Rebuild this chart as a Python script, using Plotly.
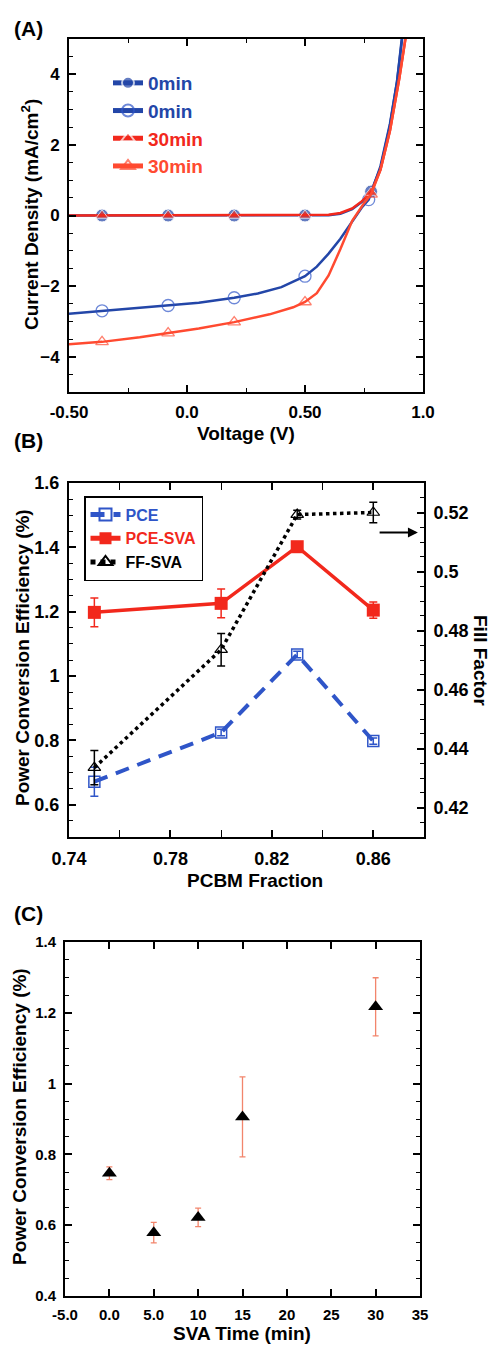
import plotly.graph_objects as go

W, H = 495, 1345

# ---------------- Panel A data (J-V curves) ----------------
V_DARK_0 = [-0.5, -0.36, -0.2, -0.08, 0.05, 0.2, 0.35, 0.5, 0.55, 0.6, 0.65, 0.7, 0.74, 0.78, 0.82, 0.86, 0.89, 0.91]
J_DARK_0 = [0, 0, 0, 0, 0, 0, 0, 0, 0, 0.01, 0.05, 0.18, 0.38, 0.68, 1.35, 2.55, 3.8, 5.0]
V_LIGHT_0 = [-0.5, -0.36, -0.2, -0.08, 0.05, 0.2, 0.3, 0.4, 0.5, 0.55, 0.6, 0.65, 0.7, 0.74, 0.77, 0.82, 0.86, 0.89, 0.915]
J_LIGHT_0 = [-2.78, -2.7, -2.62, -2.55, -2.47, -2.33, -2.21, -2.03, -1.72, -1.45, -1.08, -0.66, -0.18, 0.22, 0.45, 1.4, 2.6, 3.8, 5.2]
V_DARK_30 = [-0.5, -0.36, -0.2, -0.08, 0.05, 0.2, 0.35, 0.5, 0.55, 0.6, 0.65, 0.7, 0.74, 0.78, 0.82, 0.86, 0.9, 0.93]
J_DARK_30 = [0, 0, 0, 0, 0, 0, 0, 0, 0, 0.02, 0.07, 0.2, 0.4, 0.65, 1.3, 2.4, 3.9, 5.2]
V_LIGHT_30 = [-0.5, -0.36, -0.2, -0.08, 0.05, 0.2, 0.35, 0.45, 0.5, 0.55, 0.6, 0.65, 0.7, 0.75, 0.78, 0.82, 0.86, 0.9, 0.93]
J_LIGHT_30 = [-3.65, -3.58, -3.45, -3.33, -3.2, -3.02, -2.8, -2.6, -2.45, -2.2, -1.7, -0.95, -0.15, 0.35, 0.6, 1.3, 2.4, 3.9, 5.2]
MARK_V = [-0.36, -0.08, 0.2, 0.5, 0.78]
MARK_V_OPEN0 = [-0.36, -0.08, 0.2, 0.5, 0.77]
A_NAMES = ["0min", "0min", "30min", "30min"]

# ---------------- Panel B data ----------------
PCBM_FRAC = [0.75, 0.80, 0.83, 0.86]
PCE = [0.672, 0.825, 1.067, 0.798]
PCE_ERR = [0.045, 0.01, 0.01, 0.01]
PCE_SVA = [1.198, 1.226, 1.402, 1.205]
PCE_SVA_ERR = [0.045, 0.045, 0.012, 0.025]
FF_SVA = [0.4335, 0.4735, 0.5193, 0.5200]
FF_SVA_ERR = [0.0058, 0.0055, 0.0015, 0.0035]

# ---------------- Panel C data ----------------
SVA_TIME = [0, 5, 10, 15, 30]
PCE_C = [0.747, 0.579, 0.622, 0.906, 1.217]
PCE_C_ERR = [0.018, 0.029, 0.026, 0.113, 0.082]

BLUE = "#2346a8"
BLUE_L = "#2f55c8"
RED = "#f2281c"
RED_L = "#ff4a30"
SALMON = "#f2856c"
FONT = "Liberation Sans"


def px_x(x):
    return x / W


def px_y(y):
    return 1 - y / H


def sizes(vs, marks, s):
    return [s if any(abs(v - m) < 1e-9 for m in marks) else 0 for v in vs]


def cspan(txt, col):
    return f'<span style="color:{col}">{txt}</span>'


fig = go.Figure()

# Panel A traces
fig.add_trace(go.Scatter(x=V_DARK_0, y=J_DARK_0, mode="lines+markers", name=cspan(A_NAMES[0], BLUE),
                         line=dict(color=BLUE, width=2.5),
                         marker=dict(symbol="circle", size=sizes(V_DARK_0, MARK_V, 13), color=BLUE),
                         xaxis="x", yaxis="y", legend="legend"))
fig.add_trace(go.Scatter(x=V_LIGHT_0, y=J_LIGHT_0, mode="lines+markers", name=cspan(A_NAMES[1], BLUE),
                         line=dict(color=BLUE, width=2.5),
                         marker=dict(symbol="circle-open", size=sizes(V_LIGHT_0, MARK_V_OPEN0, 12), color=BLUE_L,
                                     line=dict(width=1.3, color=BLUE_L)),
                         xaxis="x", yaxis="y", legend="legend"))
fig.add_trace(go.Scatter(x=V_DARK_30, y=J_DARK_30, mode="lines+markers", name=cspan(A_NAMES[2], RED),
                         line=dict(color=RED, width=2.5),
                         marker=dict(symbol="triangle-up", size=sizes(V_DARK_30, MARK_V, 11), color=RED),
                         xaxis="x", yaxis="y", legend="legend"))
fig.add_trace(go.Scatter(x=V_LIGHT_30, y=J_LIGHT_30, mode="lines+markers", name=cspan(A_NAMES[3], RED_L),
                         line=dict(color=RED_L, width=2.5),
                         marker=dict(symbol="triangle-up-open", size=sizes(V_LIGHT_30, MARK_V, 11), color=RED_L,
                                     line=dict(width=1.3, color=RED_L)),
                         xaxis="x", yaxis="y", legend="legend"))

# Panel B traces
fig.add_trace(go.Scatter(x=PCBM_FRAC, y=PCE, mode="lines+markers", name=cspan("PCE", BLUE_L),
                         line=dict(color=BLUE_L, width=4, dash="14px,9px"),
                         marker=dict(symbol="square-open", size=11, color=BLUE_L, line=dict(width=1.5, color=BLUE_L)),
                         error_y=dict(type="data", array=PCE_ERR, color=BLUE_L, thickness=1.5, width=4),
                         xaxis="x2", yaxis="y2", legend="legend2"))
fig.add_trace(go.Scatter(x=PCBM_FRAC, y=PCE_SVA, mode="lines+markers", name=cspan("PCE-SVA", RED),
                         line=dict(color=RED, width=3.5),
                         marker=dict(symbol="square", size=13, color=RED),
                         error_y=dict(type="data", array=PCE_SVA_ERR, color=RED, thickness=1.5, width=4),
                         xaxis="x2", yaxis="y2", legend="legend2"))
fig.add_trace(go.Scatter(x=PCBM_FRAC, y=FF_SVA, mode="lines+markers", name=cspan("FF-SVA", "black"),
                         line=dict(color="black", width=3.5, dash="dot"),
                         marker=dict(symbol="triangle-up-open", size=11, color="black", line=dict(width=1.2, color="black")),
                         error_y=dict(type="data", array=FF_SVA_ERR, color="black", thickness=1.5, width=4),
                         xaxis="x2", yaxis="y4", legend="legend2"))

# Panel C trace
fig.add_trace(go.Scatter(x=SVA_TIME, y=PCE_C, mode="markers", name="PCE",
                         marker=dict(symbol="triangle-up", size=13, color="black"),
                         error_y=dict(type="data", array=PCE_C_ERR, color=SALMON, thickness=1.3, width=3),
                         xaxis="x3", yaxis="y3", showlegend=False))


def ax_style(fsize, **kw):
    d = dict(showline=True, linecolor="black", linewidth=2, ticks="inside", ticklen=7, tickwidth=1.5,
             tickcolor="black", showgrid=False, zeroline=False, mirror="ticks",
             tickfont=dict(family=FONT, size=fsize, color="black", weight="bold"),
             ticklabelstandoff=4, automargin=False)
    d.update(kw)
    return d


def minor(dt, t0=0):
    return dict(ticks="inside", ticklen=4, tickwidth=1.3, tickcolor="black", dtick=dt, tick0=t0, showgrid=False)


layout = dict(
    width=W, height=H, margin=dict(l=0, r=0, t=0, b=0),
    paper_bgcolor="white", plot_bgcolor="white", template="none",
    font=dict(family=FONT, color="black"),
    # Panel A
    xaxis=ax_style(17, domain=[px_x(69), px_x(423)], range=[-0.5, 1.0], tickvals=[-0.5, 0, 0.5, 1.0],
                   ticktext=["-0.50", "0.0", "0.50", "1.0"], minor=minor(0.25), anchor="y"),
    yaxis=ax_style(17, domain=[px_y(392), px_y(39)], range=[-5, 5], tickvals=[-4, -2, 0, 2, 4],
                   minor=minor(0.5), anchor="x"),
    # Panel B
    xaxis2=ax_style(18, domain=[px_x(69), px_x(424)], range=[0.74, 0.88], tickvals=[0.74, 0.78, 0.82, 0.86],
                    ticktext=["0.74", "0.78", "0.82", "0.86"], minor=dict(minor(0.02, 0.74), ticklen=7), anchor="y2"),
    yaxis2=ax_style(18, domain=[px_y(837), px_y(483)], range=[0.5, 1.6], tickvals=[0.6, 0.8, 1.0, 1.2, 1.4, 1.6],
                    ticktext=["0.6", "0.8", "1", "1.2", "1.4", "1.6"], minor=minor(0.05), anchor="x2", mirror=False),
    yaxis4=ax_style(18, overlaying="y2", side="right", range=[0.41, 0.53],
                    tickvals=[0.42, 0.44, 0.46, 0.48, 0.50, 0.52],
                    ticktext=["0.42", "0.44", "0.46", "0.48", "0.5", "0.52"], minor=minor(0.005), anchor="x2",
                    mirror=False),
    # Panel C
    xaxis3=ax_style(15, domain=[px_x(65), px_x(420)], range=[-5, 35], tickvals=[-5, 0, 5, 10, 15, 20, 25, 30, 35],
                    ticktext=["-5.0", "0.0", "5.0", "10", "15", "20", "25", "30", "35"], anchor="y3"),
    yaxis3=ax_style(15, domain=[px_y(1296), px_y(942)], range=[0.4, 1.4], tickvals=[0.4, 0.6, 0.8, 1.0, 1.2, 1.4],
                    ticktext=["0.4", "0.6", "0.8", "1", "1.2", "1.4"], minor=minor(0.05), anchor="x3"),
    legend=dict(x=px_x(108), y=px_y(64), xanchor="left", yanchor="top", bgcolor="rgba(0,0,0,0)",
                borderwidth=0, font=dict(family=FONT, size=19, weight="bold"), itemsizing="constant",
                tracegroupgap=0, itemwidth=30),
    legend2=dict(x=px_x(84), y=px_y(496), xanchor="left", yanchor="top", bgcolor="white",
                 bordercolor="black", borderwidth=1.5, font=dict(family=FONT, size=16, weight="bold"),
                 itemsizing="constant", tracegroupgap=0, itemwidth=30),
    showlegend=True,
)
fig.update_layout(**layout)

TITLE_FONT = dict(family=FONT, size=19, color="black", weight="bold")
ann = [
    dict(text="(A)", x=px_x(12), y=px_y(28), xanchor="left", font=dict(family=FONT, size=21, weight="bold")),
    dict(text="(B)", x=px_x(12), y=px_y(441), xanchor="left", font=dict(family=FONT, size=21, weight="bold")),
    dict(text="(C)", x=px_x(12), y=px_y(913), xanchor="left", font=dict(family=FONT, size=21, weight="bold")),
    dict(text="Current Density (mA/cm<sup>2</sup>)", x=px_x(30), y=px_y(215), textangle=-90, font=TITLE_FONT),
    dict(text="Voltage (V)", x=px_x(246), y=px_y(433), font=TITLE_FONT),
    dict(text="Power Conversion Efficiency (%)", x=px_x(22), y=px_y(658), textangle=-90, font=TITLE_FONT),
    dict(text="Fill Factor", x=px_x(481), y=px_y(660), textangle=90, font=TITLE_FONT),
    dict(text="PCBM Fraction", x=px_x(255), y=px_y(880), font=TITLE_FONT),
    dict(text="Power Conversion Efficiency (%)", x=px_x(19), y=px_y(1117), textangle=-90, font=TITLE_FONT),
    dict(text="SVA Time (min)", x=px_x(242), y=px_y(1333), font=TITLE_FONT),
]
for a in ann:
    a.update(xref="paper", yref="paper", showarrow=False)
    a.setdefault("xanchor", "center")
    a.setdefault("yanchor", "middle")
    fig.add_annotation(**a)

# arrow pointing to the right (Fill Factor) axis
fig.add_annotation(x=0.8776, y=0.5132, xref="x2", yref="y4", ax=0.8619, ay=0.5132, axref="x2", ayref="y4",
                   showarrow=True, arrowhead=2, arrowsize=1, arrowwidth=2, arrowcolor="black", text="")

fig.write_html("out.html")
